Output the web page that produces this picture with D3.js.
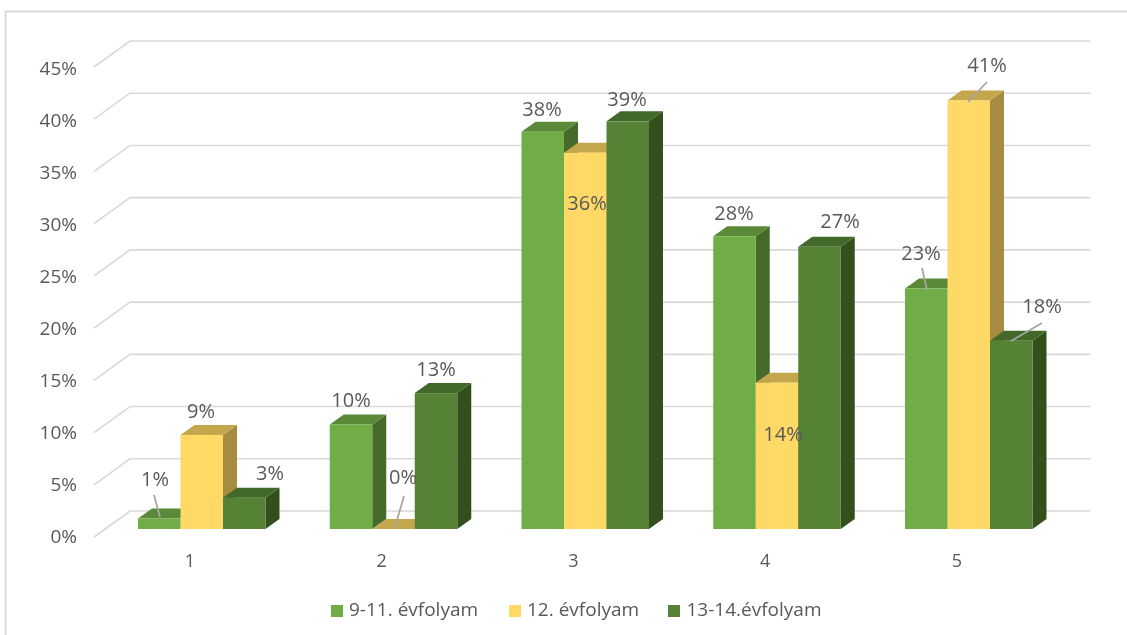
<!DOCTYPE html>
<html><head><meta charset="utf-8">
<script src="https://cdnjs.cloudflare.com/ajax/libs/d3/7.8.5/d3.min.js"></script>
<style>html,body{margin:0;padding:0;background:#fff}svg{display:block}text{font-family:"Open Sans",sans-serif;fill:#595959}</style>
</head><body><svg id="c" width="1127" height="635"></svg>
<script>
const categories=["1","2","3","4","5"];
const seriesNames=["9-11. évfolyam","12. évfolyam","13-14.évfolyam"];
const series1=[1,10,38,28,23];
const series2=[9,0,36,14,41];
const series3=[3,13,39,27,18];
const tickValues=[0,5,10,15,20,25,30,35,40,45];
const colors=[{f:"#70ad47",t:"#5a8a39",s:"#456b2b"},{f:"#ffd966",t:"#c4a64e",s:"#a58c3f"},{f:"#548235",t:"#42682a",s:"#32501f"}];
// layout of hand-placed data labels: [centre x, centre y] per series then category
const labelPos=[[[155,481],[351,402],[542,111],[734,215],[921,255]],
                [[201,413],[403,479],[587,205],[783,436],[987,67]],
                [[270,475],[436,371],[627,101],[840,223],[1042,308]]];
const leaders=[[[154,495],[160,517]],[[404,496],[395,527]],[[987,82],[968,102]],[[922,268],[927,290]],[[1042,323],[1011,341]]];
const svg=d3.select("#c");
const defs=svg.append("defs");
defs.append("filter").attr("id","soft").attr("x",0).attr("y",0).attr("width","100%").attr("height","100%")
  .attr("filterUnits","userSpaceOnUse").append("feGaussianBlur").attr("stdDeviation",0.45);
const root=svg.append("g").attr("filter","url(#soft)");
root.append("rect").attr("width",1127).attr("height",635).attr("fill","#fff");
const values=[series1,series2,series3];
const dx=14,dy=10;
const yFront=d3.scaleLinear().domain([0,45]).range([529,58.6]);
const yBack=d3.scaleLinear().domain([0,45]).range([511,41]);
const yGridFront=d3.scaleLinear().domain([0,45]).range([537,67]);
const yTickLabel=d3.scaleLinear().domain([0,45]).range([538,69.5]);
const x0=d3.scaleBand().domain(categories).range([94,1052.75]);
const groupW=x0.bandwidth();
const x1=d3.scaleBand().domain([0,1,2]).range([0,127.5]);
const groupOffset=44;
root.append("path").attr("d","M5.5,635V11.5H1127").attr("fill","none").attr("stroke","#d9d9d9").attr("stroke-width",2);
const grid=root.append("g");
tickValues.forEach(v=>{
  grid.append("path").attr("fill","none").attr("stroke","#d9d9d9").attr("stroke-width",1.6)
   .attr("d",d3.line()([[94,yGridFront(v)],[130,yBack(v)],[1090.5,yBack(v)]]));
  root.append("text").attr("x",77).attr("y",yTickLabel(v)).attr("text-anchor","end").attr("dominant-baseline","middle").attr("font-size",19).text(v+"%");
});
const bars=root.append("g");
categories.forEach((c,i)=>{
  [0,1,2].forEach(s=>{
    const v=values[s][i];
    const x=x0(c)+groupOffset+x1(s),w=x1.bandwidth(),y=yFront(v),b=yFront(0);
    const g=bars.append("g");
    g.append("path").attr("fill",colors[s].s).attr("d",`M${x+w},${y}l${dx},${-dy}V${b-dy}L${x+w},${b}Z`);
    g.append("path").attr("fill",colors[s].t).attr("d",`M${x},${y}l${dx},${-dy}h${w}l${-dx},${dy}Z`);
    g.append("rect").attr("x",x).attr("y",y).attr("width",w).attr("height",b-y).attr("fill",colors[s].f);
  });
});
leaders.forEach(l=>root.append("path").attr("d",d3.line()(l)).attr("stroke","#a6a6a6").attr("stroke-width",1.8).attr("fill","none"));
values.forEach((arr,s)=>arr.forEach((v,i)=>{
  root.append("text").attr("x",labelPos[s][i][0]).attr("y",labelPos[s][i][1]).attr("text-anchor","middle").attr("dominant-baseline","middle").attr("font-size",20).text(v+"%");
}));
categories.forEach(c=>root.append("text").attr("x",x0(c)+groupW/2).attr("y",562).attr("text-anchor","middle").attr("dominant-baseline","middle").attr("font-size",18).text(c));
const legendX=[331,509,668],legendT=[349,527,686.5];
seriesNames.forEach((n,i)=>{
  root.append("rect").attr("x",legendX[i]).attr("y",605).attr("width",12).attr("height",12).attr("fill",colors[i].f);
  root.append("text").attr("x",legendT[i]).attr("y",611).attr("dominant-baseline","middle").attr("font-size",19).text(n);
});
</script></body></html>
